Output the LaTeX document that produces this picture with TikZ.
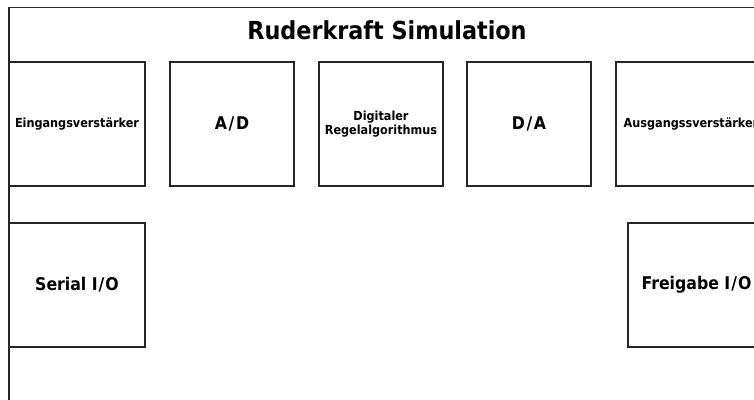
\documentclass[tikz,border=0pt]{standalone}
\usepackage{fontspec}
\setmainfont{DejaVu Sans Condensed}[BoldFont={DejaVu Sans Condensed Bold}]
\newcommand{\slsh}{\kern1.6pt/\kern1.6pt}
\begin{document}
\begin{tikzpicture}[x=1pt,y=-1pt,
  blk/.style={draw=black!85,line width=1.2pt,rectangle,inner sep=0pt,fill=white,
    minimum height=124pt,align=center,font=\bfseries\fontsize{12.5}{14}\selectfont},
  big/.style={font=\bfseries\fontsize{17.5}{20}\selectfont},
  frameline/.style={draw=black!85,line width=1.2pt}]
\useasboundingbox (0,0) rectangle (754,399);
\begin{scope}
\clip (0,0) rectangle (754,399);
\draw[frameline] (9,7.5) rectangle (800,430);
\node[font=\bfseries\fontsize{24.8}{28}\selectfont] (title) at (387,30) {Ruderkraft Simulation};
\node[blk,minimum width=136pt] (ein) at (77,124) {Eingangsverstärker};
\node[blk,minimum width=124pt,big] (ad) at (232,124) {A\slsh D};
\node[blk,minimum width=124pt] (dig) at (381,124) {Digitaler\\Regelalgorithmus};
\node[blk,minimum width=124pt,big] (da) at (529,124) {D\slsh A};
\node[blk,minimum width=150pt] (aus) at (691,124) {Ausgangssverstärker};
\node[blk,minimum width=136pt,big] (ser) at (77,285) {Serial I\kern1pt/\kern1pt O};
\node[blk,minimum width=137pt,big] (frei) at (696.5,285) {Freigabe I\kern1pt/\kern1pt O};
\end{scope}
\end{tikzpicture}
\end{document}
